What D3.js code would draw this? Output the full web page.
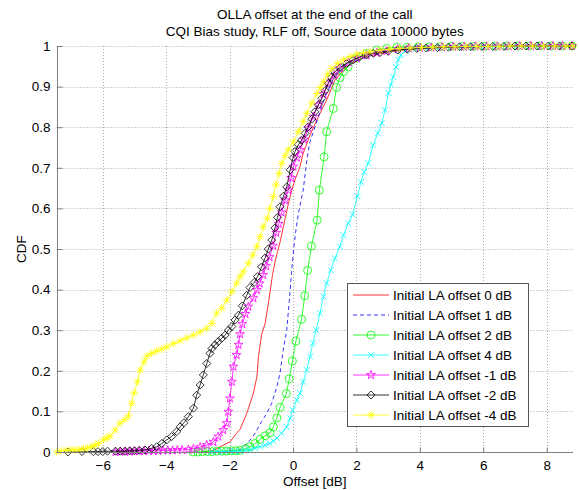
<!DOCTYPE html>
<html>
<head>
<meta charset="utf-8">
<script src="https://cdn.jsdelivr.net/npm/d3@7"></script>
<style>
    body { margin: 0; background: #fff; }
    text { font-family: 'Liberation Sans', Arial, sans-serif; font-size: 13.5px; fill: #000; }
</style>
</head>
<body>
<script>
const width = 579;
const height = 490;

const titleLines = ['OLLA offset at the end of the call', 'CQI Bias study, RLF off, Source data 10000 bytes'];
const xTicks = [-6, -4, -2, 0, 2, 4, 6, 8];
const yTicks = [0, 0.1, 0.2, 0.3, 0.4, 0.5, 0.6, 0.7, 0.8, 0.9, 1];
const seriesNames = ['Initial LA offset 0 dB', 'Initial LA offset 1 dB', 'Initial LA offset 2 dB',
    'Initial LA offset 4 dB', 'Initial LA offset -1 dB', 'Initial LA offset -2 dB', 'Initial LA offset -4 dB'];

// [offset dB, CDF]
const la0 = [[-2.9, 0], [-2.5, 0.004], [-2.3, 0.013], [-1.99, 0.025], [-1.78, 0.046], [-1.67, 0.056], [-1.46, 0.095],
    [-1.25, 0.145], [-1.14, 0.185], [-1.09, 0.235], [-0.99, 0.29], [-0.88, 0.317], [-0.76, 0.375], [-0.65, 0.435],
    [-0.55, 0.475], [-0.5, 0.49], [-0.4, 0.52], [-0.25, 0.575], [-0.15, 0.61], [-0.04, 0.645], [0.06, 0.67],
    [0.22, 0.703], [0.32, 0.736], [0.54, 0.781], [0.75, 0.818], [1.06, 0.867], [1.32, 0.916], [1.69, 0.949],
    [2.22, 0.972], [2.53, 0.978], [3.2, 0.988], [4, 0.994], [5, 0.997], [6.5, 0.999], [8.8, 1]];

const la1 = [[-2.4, 0], [-2.0, 0.002], [-1.67, 0.006], [-1.46, 0.021], [-1.3, 0.034], [-1.14, 0.054], [-0.99, 0.075],
    [-0.83, 0.095], [-0.67, 0.12], [-0.51, 0.161], [-0.41, 0.194], [-0.31, 0.251], [-0.2, 0.3], [-0.12, 0.37],
    [-0.05, 0.44], [0.02, 0.5], [0.08, 0.54], [0.17, 0.588], [0.32, 0.645], [0.43, 0.715], [0.52, 0.76],
    [0.59, 0.777], [0.8, 0.826], [1.01, 0.875], [1.32, 0.924], [1.69, 0.953], [2.32, 0.974], [2.64, 0.98],
    [3.3, 0.99], [4.2, 0.995], [5.5, 0.998], [7, 0.999], [8.8, 1]];

const la2 = [[-3.15, 0], [-3.0, 0], [-2.85, 0.001], [-2.7, 0.001], [-2.55, 0.001], [-2.4, 0.002], [-2.25, 0.002],
    [-2.1, 0.002], [-1.95, 0.003], [-1.8, 0.003], [-1.67, 0.004], [-1.5, 0.008], [-1.36, 0.013], [-1.2, 0.021],
    [-1.04, 0.031], [-0.88, 0.04], [-0.73, 0.047], [-0.62, 0.062], [-0.51, 0.084], [-0.41, 0.11], [-0.21, 0.144],
    [-0.12, 0.18], [-0.02, 0.224], [0.09, 0.273], [0.27, 0.327], [0.37, 0.385], [0.46, 0.447], [0.58, 0.507],
    [0.76, 0.571], [0.83, 0.645], [0.98, 0.727], [1.06, 0.789], [1.27, 0.846], [1.37, 0.898], [1.48, 0.922],
    [1.59, 0.937], [1.74, 0.949], [2.01, 0.97], [2.32, 0.982], [2.64, 0.99], [2.95, 0.994], [3.27, 0.997],
    [3.6, 0.997], [3.95, 0.998], [4.3, 0.998], [4.65, 0.998], [5.0, 0.999], [5.35, 0.999], [5.7, 0.999],
    [6.05, 0.999], [6.4, 0.999], [6.75, 1], [7.1, 1], [7.45, 1], [7.8, 1], [8.15, 1], [8.5, 1], [8.8, 1]];

const la4 = [[-2.6, 0], [-2.4, 0.001], [-2.2, 0.001], [-2.0, 0.002], [-1.85, 0.002], [-1.67, 0.002], [-1.5, 0.004],
    [-1.36, 0.005], [-1.2, 0.009], [-1.04, 0.013], [-0.88, 0.017], [-0.73, 0.021], [-0.62, 0.027], [-0.51, 0.034],
    [-0.36, 0.046], [-0.2, 0.062], [-0.09, 0.083], [-0.01, 0.103], [0.12, 0.128], [0.22, 0.145], [0.32, 0.173],
    [0.43, 0.202], [0.54, 0.235], [0.62, 0.268], [0.73, 0.3], [0.85, 0.342], [0.96, 0.383], [1.06, 0.416],
    [1.19, 0.448], [1.32, 0.477], [1.48, 0.506], [1.59, 0.534], [1.74, 0.563], [1.88, 0.585], [2.03, 0.63],
    [2.14, 0.665], [2.25, 0.69], [2.37, 0.711], [2.53, 0.756], [2.67, 0.785], [2.8, 0.81], [2.9, 0.842],
    [3.01, 0.884], [3.09, 0.905], [3.16, 0.924], [3.25, 0.948], [3.32, 0.966], [3.4, 0.978], [3.55, 0.988],
    [3.7, 0.993], [3.95, 0.995], [4.3, 0.996], [4.65, 0.997], [5.0, 0.998], [5.35, 0.998], [5.7, 0.999],
    [6.05, 0.999], [6.4, 0.999], [6.75, 0.999], [7.1, 1], [7.45, 1], [7.8, 1], [8.15, 1], [8.5, 1], [8.8, 1]];

const laM1 = [[-5.6, 0], [-5.45, 0.001], [-5.3, 0.001], [-5.15, 0.001], [-5.0, 0.002], [-4.85, 0.002], [-4.7, 0.002],
    [-4.55, 0.003], [-4.4, 0.003], [-4.25, 0.003], [-4.1, 0.004], [-3.95, 0.004], [-3.8, 0.004], [-3.65, 0.005],
    [-3.5, 0.005], [-3.3, 0.006], [-3.14, 0.008], [-2.93, 0.012], [-2.72, 0.017], [-2.51, 0.025], [-2.36, 0.038],
    [-2.2, 0.054], [-2.09, 0.071], [-2.04, 0.099], [-1.99, 0.132], [-1.93, 0.173], [-1.88, 0.21], [-1.78, 0.239],
    [-1.72, 0.264], [-1.67, 0.29], [-1.6, 0.315], [-1.5, 0.34], [-1.41, 0.358], [-1.25, 0.379], [-1.14, 0.399],
    [-1.05, 0.415], [-0.94, 0.436], [-0.85, 0.458], [-0.74, 0.48], [-0.63, 0.508], [-0.53, 0.54], [-0.45, 0.562],
    [-0.36, 0.59], [-0.25, 0.62], [-0.15, 0.645], [-0.06, 0.675], [0.01, 0.703], [0.12, 0.725], [0.22, 0.744],
    [0.35, 0.77], [0.48, 0.797], [0.64, 0.826], [0.8, 0.855], [0.96, 0.882], [1.11, 0.908], [1.3, 0.928],
    [1.48, 0.945], [1.75, 0.96], [2.01, 0.97], [2.32, 0.977], [2.64, 0.983], [2.95, 0.988], [3.3, 0.992],
    [3.65, 0.994], [4.0, 0.995], [4.35, 0.996], [4.7, 0.997], [5.05, 0.998], [5.4, 0.998], [5.75, 0.999],
    [6.1, 0.999], [6.45, 0.999], [6.8, 0.999], [7.15, 1], [7.5, 1], [7.85, 1], [8.2, 1], [8.5, 1], [8.8, 1]];

const laM2 = [[-7.1, 0], [-6.66, 0.001], [-6.3, 0.001], [-6.15, 0.001], [-6.0, 0.001], [-5.85, 0.002], [-5.6, 0.002],
    [-5.45, 0.002], [-5.3, 0.002], [-5.15, 0.003], [-5.0, 0.003], [-4.85, 0.004], [-4.67, 0.005], [-4.46, 0.009],
    [-4.3, 0.013], [-4.14, 0.021], [-3.98, 0.03], [-3.83, 0.038], [-3.67, 0.05], [-3.56, 0.062], [-3.44, 0.072],
    [-3.3, 0.087], [-3.14, 0.108], [-3.04, 0.14], [-2.93, 0.165], [-2.83, 0.19], [-2.72, 0.218], [-2.62, 0.243],
    [-2.56, 0.255], [-2.46, 0.264], [-2.36, 0.272], [-2.25, 0.28], [-2.14, 0.288], [-2.04, 0.3], [-1.93, 0.309],
    [-1.83, 0.325], [-1.72, 0.337], [-1.6, 0.36], [-1.46, 0.386], [-1.36, 0.405], [-1.22, 0.418], [-1.12, 0.432],
    [-0.99, 0.456], [-0.88, 0.478], [-0.78, 0.5], [-0.67, 0.522], [-0.57, 0.552], [-0.49, 0.578], [-0.41, 0.604],
    [-0.3, 0.63], [-0.2, 0.653], [-0.09, 0.695], [0.0, 0.725], [0.06, 0.74], [0.17, 0.757], [0.27, 0.768],
    [0.38, 0.785], [0.48, 0.801], [0.59, 0.82], [0.69, 0.838], [0.8, 0.855], [0.91, 0.871], [1.01, 0.89],
    [1.11, 0.908], [1.21, 0.923], [1.32, 0.937], [1.5, 0.948], [1.69, 0.957], [1.9, 0.966], [2.11, 0.974],
    [2.32, 0.978], [2.53, 0.982], [2.74, 0.984], [3.0, 0.987], [3.3, 0.99], [3.6, 0.992], [3.9, 0.994],
    [4.2, 0.995], [4.55, 0.996], [4.9, 0.997], [5.25, 0.998], [5.6, 0.998], [5.95, 0.999], [6.3, 0.999],
    [6.65, 0.999], [7.0, 1], [7.35, 1], [7.7, 1], [8.05, 1], [8.4, 1], [8.8, 1]];

const laM4 = [[-7.45, 0], [-7.32, 0.003], [-7.15, 0.004], [-7.0, 0.005], [-6.87, 0.005], [-6.74, 0.006], [-6.61, 0.008],
    [-6.48, 0.01], [-6.35, 0.013], [-6.24, 0.017], [-6.14, 0.021], [-5.98, 0.03], [-5.87, 0.035], [-5.77, 0.039],
    [-5.61, 0.054], [-5.46, 0.071], [-5.3, 0.08], [-5.19, 0.089], [-5.09, 0.12], [-5.01, 0.146], [-4.91, 0.173],
    [-4.82, 0.202], [-4.7, 0.222], [-4.61, 0.236], [-4.46, 0.243], [-4.3, 0.249], [-4.14, 0.254], [-3.98, 0.259],
    [-3.77, 0.267], [-3.56, 0.274], [-3.35, 0.281], [-3.14, 0.288], [-2.93, 0.296], [-2.72, 0.305], [-2.56, 0.317],
    [-2.41, 0.342], [-2.25, 0.354], [-2.09, 0.374], [-1.93, 0.395], [-1.78, 0.416], [-1.67, 0.432], [-1.57, 0.444],
    [-1.41, 0.465], [-1.27, 0.485], [-1.14, 0.506], [-1.04, 0.53], [-0.94, 0.555], [-0.81, 0.576], [-0.73, 0.6],
    [-0.62, 0.629], [-0.54, 0.658], [-0.44, 0.686], [-0.36, 0.711], [-0.25, 0.73], [-0.15, 0.745], [0.01, 0.764],
    [0.17, 0.789], [0.32, 0.814], [0.43, 0.834], [0.59, 0.859], [0.75, 0.883], [0.86, 0.898], [0.96, 0.912],
    [1.09, 0.93], [1.22, 0.945], [1.4, 0.957], [1.59, 0.966], [1.8, 0.974], [2.01, 0.98], [2.22, 0.983],
    [2.43, 0.986], [2.74, 0.99], [3.05, 0.992], [3.35, 0.994], [3.7, 0.995], [4.05, 0.996], [4.4, 0.997],
    [4.75, 0.998], [5.1, 0.998], [5.45, 0.999], [5.8, 0.999], [6.15, 0.999], [6.5, 0.999], [6.85, 1], [7.2, 1],
    [7.55, 1], [7.9, 1], [8.25, 1], [8.6, 1], [8.83, 1]];

const seriesData = [la0, la1, la2, la4, laM1, laM2, laM4];

// matlab style per series
const styles = [
    { color: '#ff0000', dash: null, marker: null },
    { color: '#0000ff', dash: '4,3', marker: null },
    { color: '#00ff00', dash: null, marker: 'circle' },
    { color: '#00ffff', dash: null, marker: 'x' },
    { color: '#ff00ff', dash: null, marker: 'star' },
    { color: '#000000', dash: null, marker: 'diamond' },
    { color: '#ffff00', dash: null, marker: 'asterisk' }
];

const margin = { top: 46, right: 6, bottom: 38, left: 56.5 };

const markerPath = (type) => {
    const p = d3.path();
    if (type === 'circle') {
        p.arc(0, 0, 4, 0, 2 * Math.PI);
    } else if (type === 'x') {
        p.moveTo(-3, -3); p.lineTo(3, 3);
        p.moveTo(-3, 3); p.lineTo(3, -3);
    } else if (type === 'diamond') {
        p.moveTo(0, -4); p.lineTo(4, 0); p.lineTo(0, 4); p.lineTo(-4, 0); p.closePath();
    } else if (type === 'asterisk') {
        p.moveTo(-4, 0); p.lineTo(4, 0);
        p.moveTo(0, -4); p.lineTo(0, 4);
        p.moveTo(-2.9, -2.9); p.lineTo(2.9, 2.9);
        p.moveTo(-2.9, 2.9); p.lineTo(2.9, -2.9);
    } else if (type === 'star') {
        for (let i = 0; i < 10; i++) {
            const r = i % 2 === 0 ? 4.6 : 1.8;
            const a = -Math.PI / 2 + i * Math.PI / 5;
            const px = r * Math.cos(a), py = r * Math.sin(a);
            if (i === 0) p.moveTo(px, py); else p.lineTo(px, py);
        }
        p.closePath();
    }
    return p.toString();
};

const svg = d3.select('body')
    .append('svg')
    .attr('width', width)
    .attr('height', height);

const x = d3.scaleLinear()
    .domain([-7.46, 8.83])
    .range([margin.left, width - margin.right]);

const y = d3.scaleLinear()
    .domain([0, 1])
    .range([height - margin.bottom, margin.top]);

// grid
const grid = svg.append('g')
    .attr('stroke', '#a8a8a8')
    .attr('stroke-width', 1)
    .attr('stroke-dasharray', '1,2');

grid.selectAll('.gx')
    .data(xTicks)
    .join('line')
    .attr('x1', d => Math.round(x(d)) + 0.5)
    .attr('x2', d => Math.round(x(d)) + 0.5)
    .attr('y1', y(1))
    .attr('y2', y(0));

grid.selectAll('.gy')
    .data(yTicks.filter(d => d > 0))
    .join('line')
    .attr('x1', x.range()[0])
    .attr('x2', x.range()[1])
    .attr('y1', d => Math.round(y(d)) + 0.5)
    .attr('y2', d => Math.round(y(d)) + 0.5);

// curves
const line = d3.line()
    .x(d => x(d[0]))
    .y(d => y(d[1]));

const plot = svg.append('g');

seriesData.forEach((data, i) => {
    const st = styles[i];
    const g = plot.append('g');
    g.append('path')
        .datum(data)
        .attr('d', line)
        .attr('fill', 'none')
        .attr('stroke', st.color)
        .attr('stroke-width', 0.8)
        .attr('stroke-dasharray', st.dash);
    if (st.marker) {
        g.selectAll('.m')
            .data(data)
            .join('path')
            .attr('transform', d => `translate(${x(d[0])},${y(d[1])})`)
            .attr('d', markerPath(st.marker))
            .attr('fill', 'none')
            .attr('stroke', st.color)
            .attr('stroke-width', 0.8);
    }
});

// axes
const xAxis = svg.append('g')
    .attr('transform', `translate(0,${Math.round(y(0)) + 0.5})`)
    .call(d3.axisBottom(x).tickValues(xTicks).tickSize(-5).tickPadding(8).tickFormat(d3.format('d')));

const yAxis = svg.append('g')
    .attr('transform', `translate(${Math.round(x.range()[0]) + 0.5},0)`)
    .call(d3.axisLeft(y).tickValues(yTicks).tickSize(-5).tickPadding(7).tickFormat(d => d));

[xAxis, yAxis].forEach(a => {
    a.select('.domain').attr('stroke', '#7f7f7f');
    a.selectAll('.tick line').attr('stroke', '#7f7f7f');
    a.selectAll('.tick text')
        .style('font-family', "'Liberation Sans', Arial, sans-serif")
        .style('font-size', '13.5px')
        .attr('fill', '#000');
});
xAxis.select('.domain').attr('d', `M${x.range()[0]},0H${x.range()[1]}`);
yAxis.select('.domain').attr('d', `M0,${y.range()[0]}V${y.range()[1]}`);

// titles
svg.selectAll('.title')
    .data(titleLines)
    .join('text')
    .attr('x', (x.range()[0] + x.range()[1]) / 2)
    .attr('y', (d, i) => 19 + i * 17)
    .attr('text-anchor', 'middle')
    .text(d => d);

svg.append('text')
    .attr('x', (x.range()[0] + x.range()[1]) / 2)
    .attr('y', 486)
    .attr('text-anchor', 'middle')
    .text('Offset [dB]');

svg.append('text')
    .attr('transform', 'translate(26,249) rotate(-90)')
    .attr('text-anchor', 'middle')
    .text('CDF');

// legend
const legend = svg.append('g')
    .attr('transform', 'translate(347,283)');

legend.append('rect')
    .attr('x', 0.5)
    .attr('y', 0.5)
    .attr('width', 181)
    .attr('height', 143)
    .attr('fill', '#fff')
    .attr('stroke', '#555');

const rows = legend.selectAll('.row')
    .data(seriesNames)
    .join('g')
    .attr('transform', (d, i) => `translate(0,${12 + i * 20})`);

rows.append('line')
    .attr('x1', 6)
    .attr('x2', 42)
    .attr('stroke', (d, i) => styles[i].color)
    .attr('stroke-width', 0.8)
    .attr('stroke-dasharray', (d, i) => styles[i].dash);

rows.filter((d, i) => styles[i].marker)
    .append('path')
    .attr('transform', 'translate(24,0)')
    .attr('d', (d) => markerPath(styles[seriesNames.indexOf(d)].marker))
    .attr('fill', 'none')
    .attr('stroke', d => styles[seriesNames.indexOf(d)].color)
    .attr('stroke-width', 0.8);

rows.append('text')
    .attr('x', 46)
    .attr('dy', '0.35em')
    .text(d => d);
</script>
</body>
</html>
